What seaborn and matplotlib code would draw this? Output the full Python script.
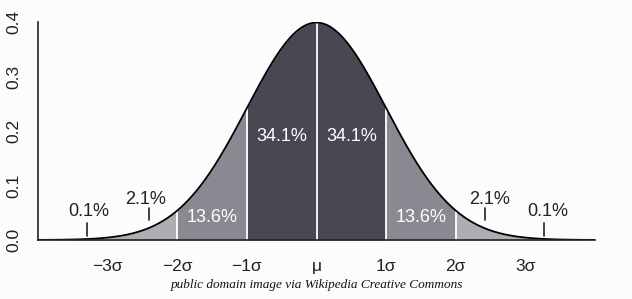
import numpy as np
import pandas as pd
import matplotlib
matplotlib.use("Agg")
import matplotlib.pyplot as plt
import seaborn as sns

# Distribution parameters (standard normal)
mu = 0.0
sigma = 1.0

# Axis ticks
x_ticks = [-3, -2, -1, 0, 1, 2, 3]
x_tick_labels = ["\u22123\u03c3", "\u22122\u03c3", "\u22121\u03c3", "\u03bc", "1\u03c3", "2\u03c3", "3\u03c3"]
y_ticks = [0.0, 0.1, 0.2, 0.3, 0.4]
y_tick_labels = ["0.0", "0.1", "0.2", "0.3", "0.4"]

# Shaded regions (in sigma units)
region_lo = [-4, -3, -2, -1, 0, 1, 2, 3]
region_hi = [-3, -2, -1, 0, 1, 2, 3, 4]
region_colors = ["#c9c8cc", "#aeadb3", "#8a8890", "#4a4752", "#4a4752", "#8a8890", "#aeadb3", "#c9c8cc"]

# Percentage labels
pct_labels = ["34.1%", "34.1%", "13.6%", "13.6%", "2.1%", "2.1%", "0.1%", "0.1%"]
pct_x = [-0.5, 0.5, -1.5, 1.5, -2.45, 2.48, -3.27, 3.32]
pct_y = [0.19, 0.19, 0.042, 0.042, 0.074, 0.074, 0.053, 0.053]
pct_white = [True, True, True, True, False, False, False, False]
# pointer marks for the small tails
mark_x = [-2.4, 2.42, -3.3, 3.27]
mark_y0 = [0.036, 0.036, 0.007, 0.007]
mark_y1 = [0.059, 0.059, 0.031, 0.031]

xs = np.linspace(-4, 4, 801)
dens = np.exp(-0.5 * ((xs - mu) / sigma) ** 2) / (sigma * np.sqrt(2 * np.pi))
df = pd.DataFrame({"x": xs, "density": dens})

sns.set_style("white")
plt.rcParams["font.family"] = ["Liberation Sans", "DejaVu Sans"]

fig = plt.figure(figsize=(6.32, 2.99), dpi=100)
fig.patch.set_facecolor("#fcfcfc")
ax = fig.add_axes([38 / 632, 59 / 299, 557 / 632, 218 / 299])
ax.set_facecolor("#fcfcfc")

for lo, hi, c in zip(region_lo, region_hi, region_colors):
    m = (df["x"] >= lo) & (df["x"] <= hi)
    ax.fill_between(df["x"][m], 0, df["density"][m], color=c, linewidth=0)

# white separators
for b in [-2, -1, 0, 1, 2]:
    h = np.exp(-0.5 * b ** 2) / np.sqrt(2 * np.pi)
    ax.vlines(b, 0, h, color="white", linewidth=1.3)

sns.lineplot(data=df, x="x", y="density", color="black", linewidth=1.3, ax=ax)

for t, x, y, w in zip(pct_labels, pct_x, pct_y, pct_white):
    ax.text(x, y, t, ha="center", va="center", fontsize=13,
            color="white" if w else "#222222")
for x, y0, y1 in zip(mark_x, mark_y0, mark_y1):
    ax.plot([x, x], [y0, y1], color="#222222", linewidth=1.2)

ax.set_xlim(-4, 4)
ax.set_ylim(0, 0.4)
ax.set_xticks(x_ticks)
ax.set_xticklabels(x_tick_labels, fontsize=12.5)
ax.set_yticks(y_ticks)
ax.set_yticklabels(y_tick_labels, fontsize=12.5, rotation=90, va="center")
ax.tick_params(axis="x", direction="out", length=6, width=1, color="#222222", pad=8, labelcolor="#222222")
ax.tick_params(axis="y", direction="out", length=7, width=1, color="#222222", pad=5, labelcolor="#222222")
ax.set_xlabel("")
ax.set_ylabel("")
for s in ["top", "right"]:
    ax.spines[s].set_visible(False)
for s in ["left", "bottom"]:
    ax.spines[s].set_color("#222222")
    ax.spines[s].set_linewidth(1.2)

fig.text(317 / 632, 1 - 285 / 299, "public domain image via Wikipedia Creative Commons",
         ha="center", va="center", fontsize=9.5, style="italic",
         family=["Liberation Serif", "DejaVu Serif"], color="#111111")

fig.savefig("out.png", dpi=100, facecolor=fig.get_facecolor())
